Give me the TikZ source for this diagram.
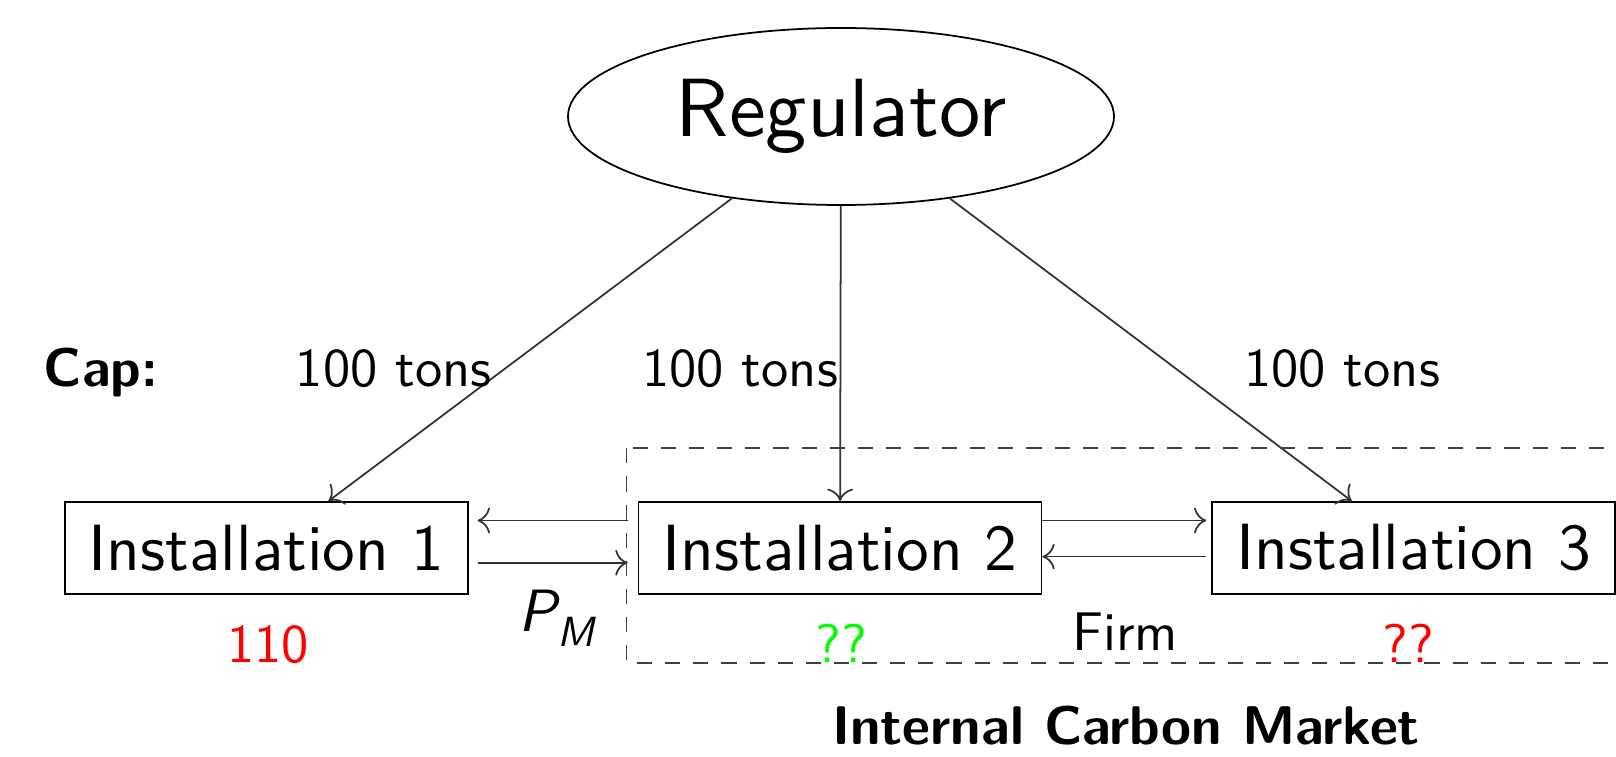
\documentclass[tikz,border=0pt]{standalone}
\usepackage{fontspec}
\setsansfont{lmsans10-regular.otf}[BoldFont=lmsans10-bold.otf,ItalicFont=lmsans10-oblique.otf,BoldItalicFont=lmsans10-boldoblique.otf]
\renewcommand{\familydefault}{\sfdefault}
\usetikzlibrary{shapes.geometric,positioning,arrows.meta}

\begin{document}
\begin{tikzpicture}[>={To[scale=1.3]},line width=0.5pt,every node/.style={inner sep=1pt},
  inst/.style={draw,minimum width=4.03cm,minimum height=0.917cm,inner sep=0pt,font=\fontsize{18.6}{22}\selectfont},
  lbl/.style={anchor=base,font=\fontsize{15.5}{18}\selectfont}]
  \clip (0,0) rectangle (16.16,-7.57);
  \def\yb{-3.865}
  \node[draw,ellipse,minimum width=5.46cm,minimum height=1.77cm,inner sep=0pt,font=\fontsize{23.5}{28}\selectfont] (reg) at (8.41,-1.165) {Regulator};
  \node[inst] (inst2) at (8.40,-5.478) {Installation 2};
  \node[inst,left=1.69cm of inst2] (inst1) {Installation 1};
  \node[inst,right=1.69cm of inst2] (inst3) {Installation 3};
  \foreach \n in {1,2,3} {
    \draw[->,black!80] (reg) -- (inst\n);
  }
  \draw[->,black!80,shorten <=0.1cm,shorten >=0.09cm] ([yshift=0.273cm]inst2.west) -- ([yshift=0.273cm]inst1.east);
  \draw[->,black!80,shorten <=0.09cm,shorten >=0.1cm] ([yshift=-0.149cm]inst1.east) -- ([yshift=-0.149cm]inst2.west);
  \draw[->,black!80,shorten >=0.05cm] ([yshift=0.273cm]inst2.east) -- ([yshift=0.273cm]inst3.west);
  \draw[->,black!80,shorten <=0.05cm] ([yshift=-0.088cm]inst3.west) -- ([yshift=-0.088cm]inst2.east);
  \draw[black!75,dash pattern=on 4.3pt off 3.7pt] (6.266,-4.483) rectangle (16.6,-6.627);
  \node[lbl,font=\fontsize{15.5}{18}\selectfont\bfseries] (cap) at (1.01,\yb) {Cap:};
  \node[lbl] (tons1) at (3.937,\yb) {100 tons};
  \node[lbl] (tons2) at (7.40,\yb) {100 tons};
  \node[lbl] (tons3) at (13.42,\yb) {100 tons};
  \node[lbl,text=red] (em1) at (2.68,-6.627) {110};
  \node[lbl,text=green] (em2) at (8.41,-6.627) {??};
  \node[lbl,text=red] (em3) at (14.08,-6.627) {??};
  \node[lbl] (firm) at (11.25,-6.503) {Firm};
  \node[lbl,font=\fontsize{17}{20}\selectfont] (pm) at (5.565,-6.318) {\itshape P\raisebox{-0.55ex}{\fontsize{12}{14}\selectfont M}};
  \node[lbl,font=\fontsize{15.5}{18}\selectfont\bfseries] (icm) at (11.26,-7.441) {Internal Carbon Market};
\end{tikzpicture}
\end{document}
